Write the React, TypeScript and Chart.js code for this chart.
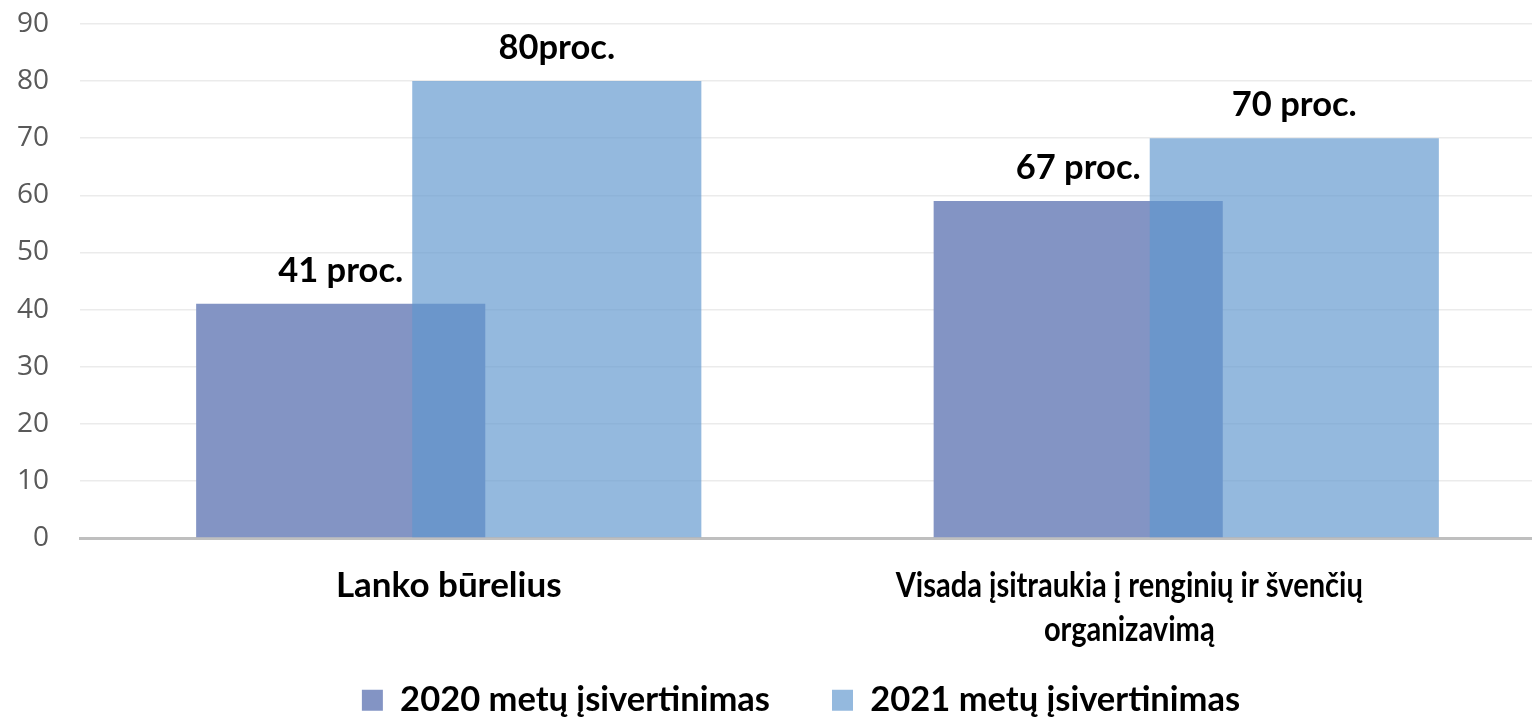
import React, { useEffect, useRef } from "react";
import { Chart, registerables } from "chart.js";

Chart.register(...registerables);

const categories: string[][] = [
  ["Lanko būrelius"],
  ["Visada įsitraukia į renginių ir švenčių", "organizavimą"],
];
const seriesNames = ["2020 metų įsivertinimas", "2021 metų įsivertinimas"];
const values2020 = [41, 59];
const values2021 = [80, 70];
const labels2020 = ["41 proc.", "67 proc."];
const labels2021 = ["80proc.", "70 proc."];
const yTicks = [0, 10, 20, 30, 40, 50, 60, 70, 80, 90];

const BOLD_FONT = "Lato, 'Open Sans', sans-serif";
const BOLD_SIZE = 34.5;
const CATEGORY_SIZE = 35;
// Excel nudged and horizontally squeezed the long wrapped label
const CATEGORY_LABEL_SHIFT = [0, -57];
const CATEGORY_LABEL_SQUEEZE = [1, 0.83];

// draw datasets in index order so the 2021 bars lie over the 2020 bars
const drawOrderPlugin = {
  id: "drawOrder",
  beforeDatasetsDraw(chart: any) {
    const ctx = chart.ctx;
    const a = chart.chartArea;
    ctx.save();
    ctx.beginPath();
    ctx.rect(a.left, a.top, a.right - a.left, a.bottom - a.top);
    ctx.clip();
    for (let i = 0; i < chart.data.datasets.length; i++) {
      const meta = chart.getDatasetMeta(i);
      if (!meta.hidden) meta.controller.draw();
    }
    ctx.restore();
    return false;
  },
};

const labelsPlugin = {
  id: "labels",
  afterDraw(chart: any) {
    const ctx = chart.ctx;
    const texts = [labels2020, labels2021];
    ctx.save();
    ctx.font = `bold ${BOLD_SIZE}px ${BOLD_FONT}`;
    ctx.fillStyle = "#000000";
    ctx.textAlign = "center";
    ctx.textBaseline = "alphabetic";
    chart.data.datasets.forEach((_ds: any, di: number) => {
      const meta = chart.getDatasetMeta(di);
      meta.data.forEach((bar: any, i: number) => {
        ctx.fillText(texts[di][i], bar.x, bar.y - 22);
      });
    });
    // category labels
    const xs = chart.scales.x;
    ctx.font = `bold ${CATEGORY_SIZE}px ${BOLD_FONT}`;
    ctx.textBaseline = "middle";
    categories.forEach((lines, i) => {
      const cx = xs.getPixelForTick(i) + CATEGORY_LABEL_SHIFT[i];
      lines.forEach((line, li) => {
        const w = ctx.measureText(line).width * CATEGORY_LABEL_SQUEEZE[i];
        ctx.fillText(line, cx, xs.top + 48 + li * 44, w);
      });
    });
    ctx.restore();
  },
};

export default function App() {
  const canvasRef = useRef<HTMLCanvasElement | null>(null);

  useEffect(() => {
    if (!canvasRef.current) return;
    const chart = new Chart(canvasRef.current, {
      type: "bar",
      data: {
        labels: categories.map((c) => c.join(" ")),
        datasets: [
          {
            label: seriesNames[0],
            data: values2020,
            backgroundColor: "rgb(131,148,196)",
            borderWidth: 0,
            categoryPercentage: 0.586,
            barPercentage: 1.338,
          },
          {
            label: seriesNames[1],
            data: values2021,
            backgroundColor: "rgba(96,151,206,0.67)",
            borderWidth: 0,
            categoryPercentage: 0.586,
            barPercentage: 1.338,
          },
        ],
      },
      options: {
        animation: false,
        responsive: false,
        maintainAspectRatio: false,
        layout: { padding: { left: 16, right: 9, top: 24, bottom: 0 } },
        plugins: {
          tooltip: { enabled: false },
          legend: {
            position: "bottom",
            align: "center",
            maxHeight: 97,
            labels: {
              boxWidth: 21,
              boxHeight: 21,
              padding: 62,
              color: "#000000",
              font: { family: BOLD_FONT, size: BOLD_SIZE, weight: "bold" },
            },
          },
        },
        scales: {
          x: {
            type: "category",
            position: "bottom",
            grid: { display: false, drawTicks: false },
            border: { display: true, color: "#bfbfbf", width: 3 },
            ticks: { display: false },
            afterFit: (scale: any) => {
              scale.height = 83;
            },
          },
          y: {
            min: 0,
            max: 90,
            afterBuildTicks: (scale: any) => {
              scale.ticks = yTicks.map((v) => ({ value: v }));
            },
            afterFit: (scale: any) => {
              scale.width = 64;
              scale.paddingTop = 0;
              scale.paddingBottom = 0;
            },
            grid: { color: "#ebebeb", lineWidth: 1.5, drawTicks: false },
            border: { display: false },
            ticks: {
              padding: 31,
              color: "#595959",
              font: { family: "'Open Sans', sans-serif", size: 28 },
            },
          },
          // empty spacer on the right (the original chart's outer margin)
          ySpacer: {
            type: "linear",
            position: "right",
            grid: { display: false, drawTicks: false },
            border: { display: false },
            ticks: { display: false },
            afterFit: (scale: any) => {
              scale.width = 31;
            },
          },
        },
      },
      plugins: [drawOrderPlugin, labelsPlugin],
    } as any);
    return () => chart.destroy();
  }, []);

  return (
    <div
      style={{
        position: "fixed",
        left: 0,
        top: 0,
        width: 1532,
        height: 718,
        overflow: "hidden",
        background: "#ffffff",
      }}
    >
      <canvas ref={canvasRef} width={1595} height={718} style={{ display: "block" }} />
    </div>
  );
}
